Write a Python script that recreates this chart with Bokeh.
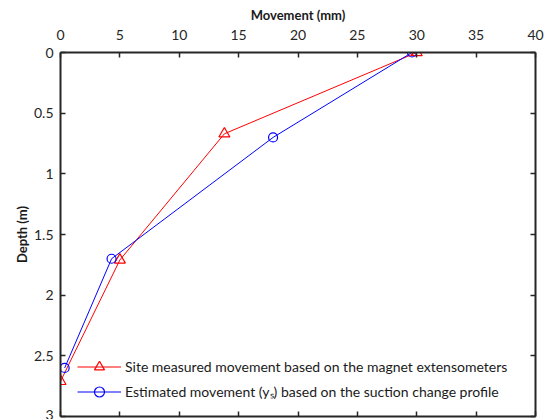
from bokeh.plotting import figure
from bokeh.models import Range1d, LinearAxis, FixedTicker, Legend, LegendItem
from bokeh.embed import file_html
from bokeh.resources import INLINE

# Data
measured_movement = [30.0, 13.8, 5.0, 0.0]
measured_depth = [0.0, 0.67, 1.71, 2.71]
estimated_movement = [29.6, 17.9, 4.3, 0.35]
estimated_depth = [0.0, 0.70, 1.70, 2.60]

x_ticks = [0, 5, 10, 15, 20, 25, 30, 35, 40]
x_tick_labels = ["0", "5", "10", "15", "20", "25", "30", "35", "40"]
y_ticks = [0, 0.5, 1, 1.5, 2, 2.5, 3]
y_tick_labels = ["0", "0.5", "1", "1.5", "2", "2.5", "3"]

label_measured = "Site measured movement based on the magnet extensometers"
label_estimated = "Estimated movement (y\u209b) based on the suction change profile"

FONT = "Lato"
TXT = "#262626"

p = figure(width=546, height=419, output_backend="svg", toolbar_location=None,
           x_range=Range1d(0, 40), y_range=Range1d(3, 0),
           x_axis_location="above",
           min_border_left=60, min_border_right=11, min_border_top=52, min_border_bottom=3)
p.outline_line_color = None
p.grid.visible = False
p.background_fill_color = "white"
p.border_fill_color = "white"

def style_axis(ax, ticks, labels, show_labels=True):
    ax.ticker = FixedTicker(ticks=ticks)
    ax.minor_tick_line_color = None
    ax.major_tick_in = 5
    ax.major_tick_out = 0
    ax.major_tick_line_color = TXT
    ax.major_tick_line_width = 1.5
    ax.axis_line_color = TXT
    ax.axis_line_width = 2
    ax.major_label_text_font = FONT
    ax.major_label_text_color = TXT
    ax.major_label_text_font_size = "14px"
    if show_labels:
        ax.major_label_overrides = {t: l for t, l in zip(ticks, labels)}
    else:
        ax.major_label_overrides = {t: "" for t in ticks}
        ax.major_label_standoff = 0

# top axis
xa = p.xaxis[0]
style_axis(xa, x_ticks, x_tick_labels)
xa.axis_label = "Movement (mm)"
xa.axis_label_text_font = FONT
xa.axis_label_text_font_style = "bold"
xa.axis_label_text_font_size = "13px"
xa.axis_label_text_color = "#1a1a1a"
xa.major_label_standoff = 13
xa.axis_label_standoff = 4

ya = p.yaxis[0]
style_axis(ya, y_ticks, y_tick_labels)
ya.axis_label = "Depth (m)"
ya.axis_label_text_font = FONT
ya.axis_label_text_font_style = "bold"
ya.axis_label_text_font_size = "13px"
ya.axis_label_text_color = "#1a1a1a"
ya.major_label_standoff = 7
ya.axis_label_standoff = 1

xb = LinearAxis()
style_axis(xb, x_ticks, x_tick_labels, show_labels=False)
p.add_layout(xb, "below")
yr = LinearAxis()
style_axis(yr, y_ticks, y_tick_labels, show_labels=False)
p.add_layout(yr, "right")

l1 = p.line(measured_movement, measured_depth, line_color="#ff0000", line_width=1)
m1 = p.scatter(measured_movement, measured_depth, marker="triangle", size=11,
               line_color="#ff0000", fill_color=None, line_width=1.2)
l2 = p.line(estimated_movement, estimated_depth, line_color="#0000ff", line_width=1)
m2 = p.scatter(estimated_movement, estimated_depth, marker="circle", size=9,
               line_color="#0000ff", fill_color=None, line_width=1.2)

legend = Legend(items=[LegendItem(label=label_measured, renderers=[l1, m1]),
                       LegendItem(label=label_estimated, renderers=[l2, m2])],
                location=(17, 12), padding=0, margin=0, spacing=0,
                glyph_width=44, glyph_height=25, label_height=25, label_standoff=4,
                label_text_font=FONT, label_text_font_size="14px", label_text_color="#1a1a1a",
                border_line_alpha=0, background_fill_alpha=0)
p.add_layout(legend, "center")

open("out.html", "w").write(file_html(p, INLINE))
